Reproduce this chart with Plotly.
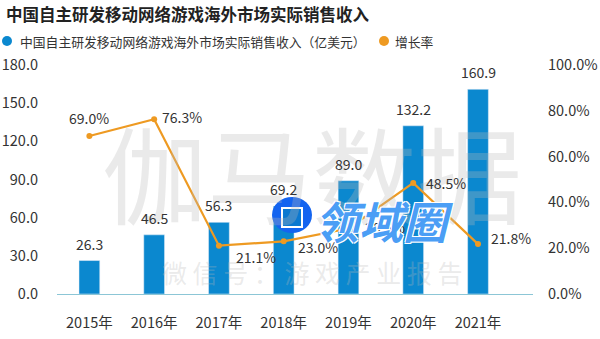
import plotly.graph_objects as go

years = ["2015年", "2016年", "2017年", "2018年", "2019年", "2020年", "2021年"]
revenue = [26.3, 46.5, 56.3, 69.2, 89.0, 132.2, 160.9]
growth = [0.690, 0.763, 0.211, 0.230, 0.286, 0.485, 0.218]

title = "中国自主研发移动网络游戏海外市场实际销售收入"
bar_name = "中国自主研发移动网络游戏海外市场实际销售收入（亿美元）"
line_name = "增长率"

# label placement styles for growth labels (anchor, x shift px, y shift px)
g_anchor = ["center", "left", "left", "left", "left", "left", "left"]
g_xshift = [0, 6, 15, 12, 15, 11, 11]
g_yshift = [18, 2, -11, -6, 2, 0, 6]

BLUE = "#0b88cf"
ORANGE = "#ee9a22"
FONT = "Noto Sans CJK SC"
TXT = "#333333"

# plot-area geometry (px) used to convert overlay positions to paper coords
L, R, T, B = 57, 67, 65, 45
PW, PH = 600 - L - R, 339 - T - B


def px2paper(x, y):
    return (x - L) / PW, (339 - B - y) / PH


def box(x0, y0, x1, y1):
    a, b = px2paper(x0, y0)
    c, d = px2paper(x1, y1)
    return dict(x0=a, x1=c, y0=d, y1=b)


fig = go.Figure()
fig.add_trace(go.Bar(
    x=years, y=revenue, marker_color=BLUE, width=0.32,
    showlegend=False, name=bar_name, yaxis="y"))
fig.add_trace(go.Scatter(
    x=years, y=growth, mode="lines+markers", yaxis="y2",
    line=dict(color=ORANGE, width=2.2), marker=dict(color=ORANGE, size=6),
    cliponaxis=False, showlegend=False, name=line_name))

annotations = []
# watermarks (drawn first)
wx, wy = px2paper(312, 170)
annotations.append(dict(text="伽马数据", xref="paper", yref="paper", x=wx, y=wy,
                        xanchor="center", yanchor="middle", showarrow=False,
                        font=dict(size=105, color="rgba(185,185,185,0.30)", family=FONT)))
wx, wy = px2paper(312, 272)
annotations.append(dict(text="微 信 号 ： 游 戏 产 业 报 告", xref="paper", yref="paper",
                        x=wx, y=wy, xanchor="center", yanchor="middle", showarrow=False,
                        font=dict(size=25, color="rgba(185,185,185,0.30)", family=FONT)))

# bar value labels
for xv, yv in zip(years, revenue):
    annotations.append(dict(x=xv, y=yv, xref="x", yref="y", text=f"{yv:.1f}",
                            showarrow=False, xanchor="center", yanchor="middle", yshift=17,
                            font=dict(size=14, color=TXT, family=FONT)))
# growth labels
for xv, yv, a, dx, dy in zip(years, growth, g_anchor, g_xshift, g_yshift):
    annotations.append(dict(x=xv, y=yv, xref="x", yref="y2", text=f"{yv*100:.1f}%",
                            showarrow=False, xanchor=a, yanchor="middle",
                            xshift=dx, yshift=dy,
                            font=dict(size=14, color=TXT, family=FONT)))

# site logo overlay
lx, ly = px2paper(384, 220)
annotations.append(dict(
    text="<b><i>领域圈</i></b>", xref="paper", yref="paper", x=lx, y=ly,
    xanchor="center", yanchor="middle", showarrow=False,
    font=dict(size=44, color="rgba(70,155,245,0.97)", family=FONT,
              shadow="-1px -1px 0 #fff, 1px -1px 0 #fff, -1px 1px 0 #fff, 1px 1px 0 #fff")))

# title and legend (legend drawn as circles + text, to match the reference)
_, lgy = px2paper(0, 41)
lt1x, _ = px2paper(18, 41)
lt2x, _ = px2paper(393, 41)
annotations += [
    dict(text="<b>" + title + "</b>", xref="paper", yref="paper",
         x=px2paper(4, 0)[0], y=px2paper(0, 14)[1], xanchor="left", yanchor="middle",
         showarrow=False, font=dict(size=16.5, color="#222222", family=FONT)),
    dict(text=bar_name, xref="paper", yref="paper", x=lt1x, y=lgy,
         xanchor="left", yanchor="middle", showarrow=False,
         font=dict(size=12.8, color=TXT, family=FONT)),
    dict(text=line_name, xref="paper", yref="paper", x=lt2x, y=lgy,
         xanchor="left", yanchor="middle", showarrow=False,
         font=dict(size=12.8, color=TXT, family=FONT)),
]

shapes = [
    dict(type="circle", xref="paper", yref="paper", **box(2, 36, 12, 46),
         fillcolor=BLUE, line=dict(width=0)),
    dict(type="circle", xref="paper", yref="paper", **box(379, 36, 389, 46),
         fillcolor=ORANGE, line=dict(width=0)),
    dict(type="circle", xref="paper", yref="paper", layer="above",
         **box(272, 197, 312, 233), fillcolor="#1464f0", line=dict(width=0)),
    dict(type="rect", xref="paper", yref="paper", layer="above",
         **box(282, 208, 302, 227), fillcolor="#0b78d0",
         line=dict(width=2, color="white")),
]

fig.update_layout(
    width=600, height=339,
    margin=dict(l=L, r=R, t=T, b=B, autoexpand=False),
    paper_bgcolor="white", plot_bgcolor="white",
    font=dict(family=FONT, size=14, color=TXT),
    showlegend=False,
    bargap=0.68,
    xaxis=dict(showgrid=False, showline=True, linecolor="#8cc6d6",
               linewidth=1.2, ticks="", ticklabelstandoff=15,
               tickfont=dict(size=14.5, color=TXT), automargin=False),
    yaxis=dict(range=[0, 180], dtick=30, tickformat=".1f",
               showgrid=False, zeroline=False, ticks="", automargin=False,
               ticklabelstandoff=18, tickfont=dict(size=14.5, color=TXT)),
    yaxis2=dict(range=[0, 1], dtick=0.2, tickformat=".1%",
                overlaying="y", side="right", showgrid=False, automargin=False,
                zeroline=False, ticks="", ticklabelstandoff=14,
                tickfont=dict(size=14.5, color=TXT)),
    annotations=annotations,
    shapes=shapes,
)

fig.write_html("out.html")
